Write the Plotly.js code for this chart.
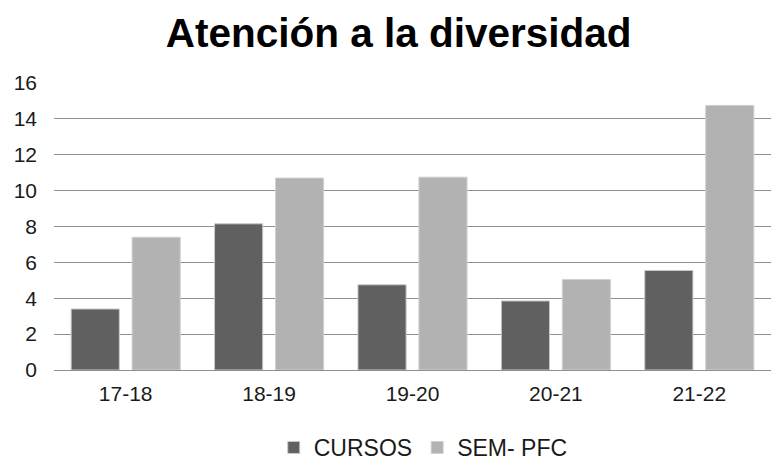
<!DOCTYPE html>
<html><head><meta charset="utf-8">
<script src="https://cdn.plot.ly/plotly-3.0.1.min.js"></script>
<style>html,body{margin:0;padding:0;background:#fff}</style>
</head><body>
<div id="chart" style="width:771px;height:462px"></div>
<script>
const categories = ["17-18", "18-19", "19-20", "20-21", "21-22"];
const cursos = [3.4, 8.15, 4.75, 3.85, 5.55];
const semPfc = [7.4, 10.7, 10.75, 5.05, 14.75];
const yTicks = [0, 2, 4, 6, 8, 10, 12, 14, 16];

const font = "Liberation Sans, Arial, sans-serif";
const traces = [
  {type: "bar", name: "CURSOS", x: categories, y: cursos,
   marker: {color: "#606060", line: {color: "#c8c8c8", width: 1}}},
  {type: "bar", name: "SEM- PFC", x: categories, y: semPfc,
   marker: {color: "#b2b2b2", line: {color: "#d0d0d0", width: 1}}}
];
const layout = {
  width: 771, height: 462,
  margin: {l: 54, r: 0, t: 83, b: 92, autoexpand: false},
  paper_bgcolor: "#fff", plot_bgcolor: "#fff",
  title: {text: "<b>Atención a la diversidad</b>", font: {family: font, size: 40.5, color: "#000"},
          x: 0.517, xanchor: "center", y: 0.928, yanchor: "middle"},
  barmode: "group", bargap: 0.15, bargroupgap: 0.21,
  xaxis: {type: "category", showgrid: false, showline: false, ticks: "",
          ticklabelstandoff: 9,
          tickfont: {family: font, size: 21, color: "#1a1a1a"}},
  yaxis: {range: [0, 16], tickvals: yTicks, showgrid: true, gridcolor: "#8f8f8f", gridwidth: 1,
          zeroline: true, zerolinecolor: "#8f8f8f", zerolinewidth: 1, showline: false, ticks: "",
          ticklabelstandoff: 16, tickfont: {family: font, size: 21, color: "#1a1a1a"}},
  showlegend: true,
  legend: {orientation: "h", x: 0.515, xanchor: "center", y: -0.27, yanchor: "middle",
           font: {family: font, size: 23, color: "#1a1a1a"}, itemwidth: 30, traceorder: "normal"}
};
Plotly.newPlot("chart", traces, layout, {displayModeBar: false, staticPlot: true});
</script>
</body></html>
